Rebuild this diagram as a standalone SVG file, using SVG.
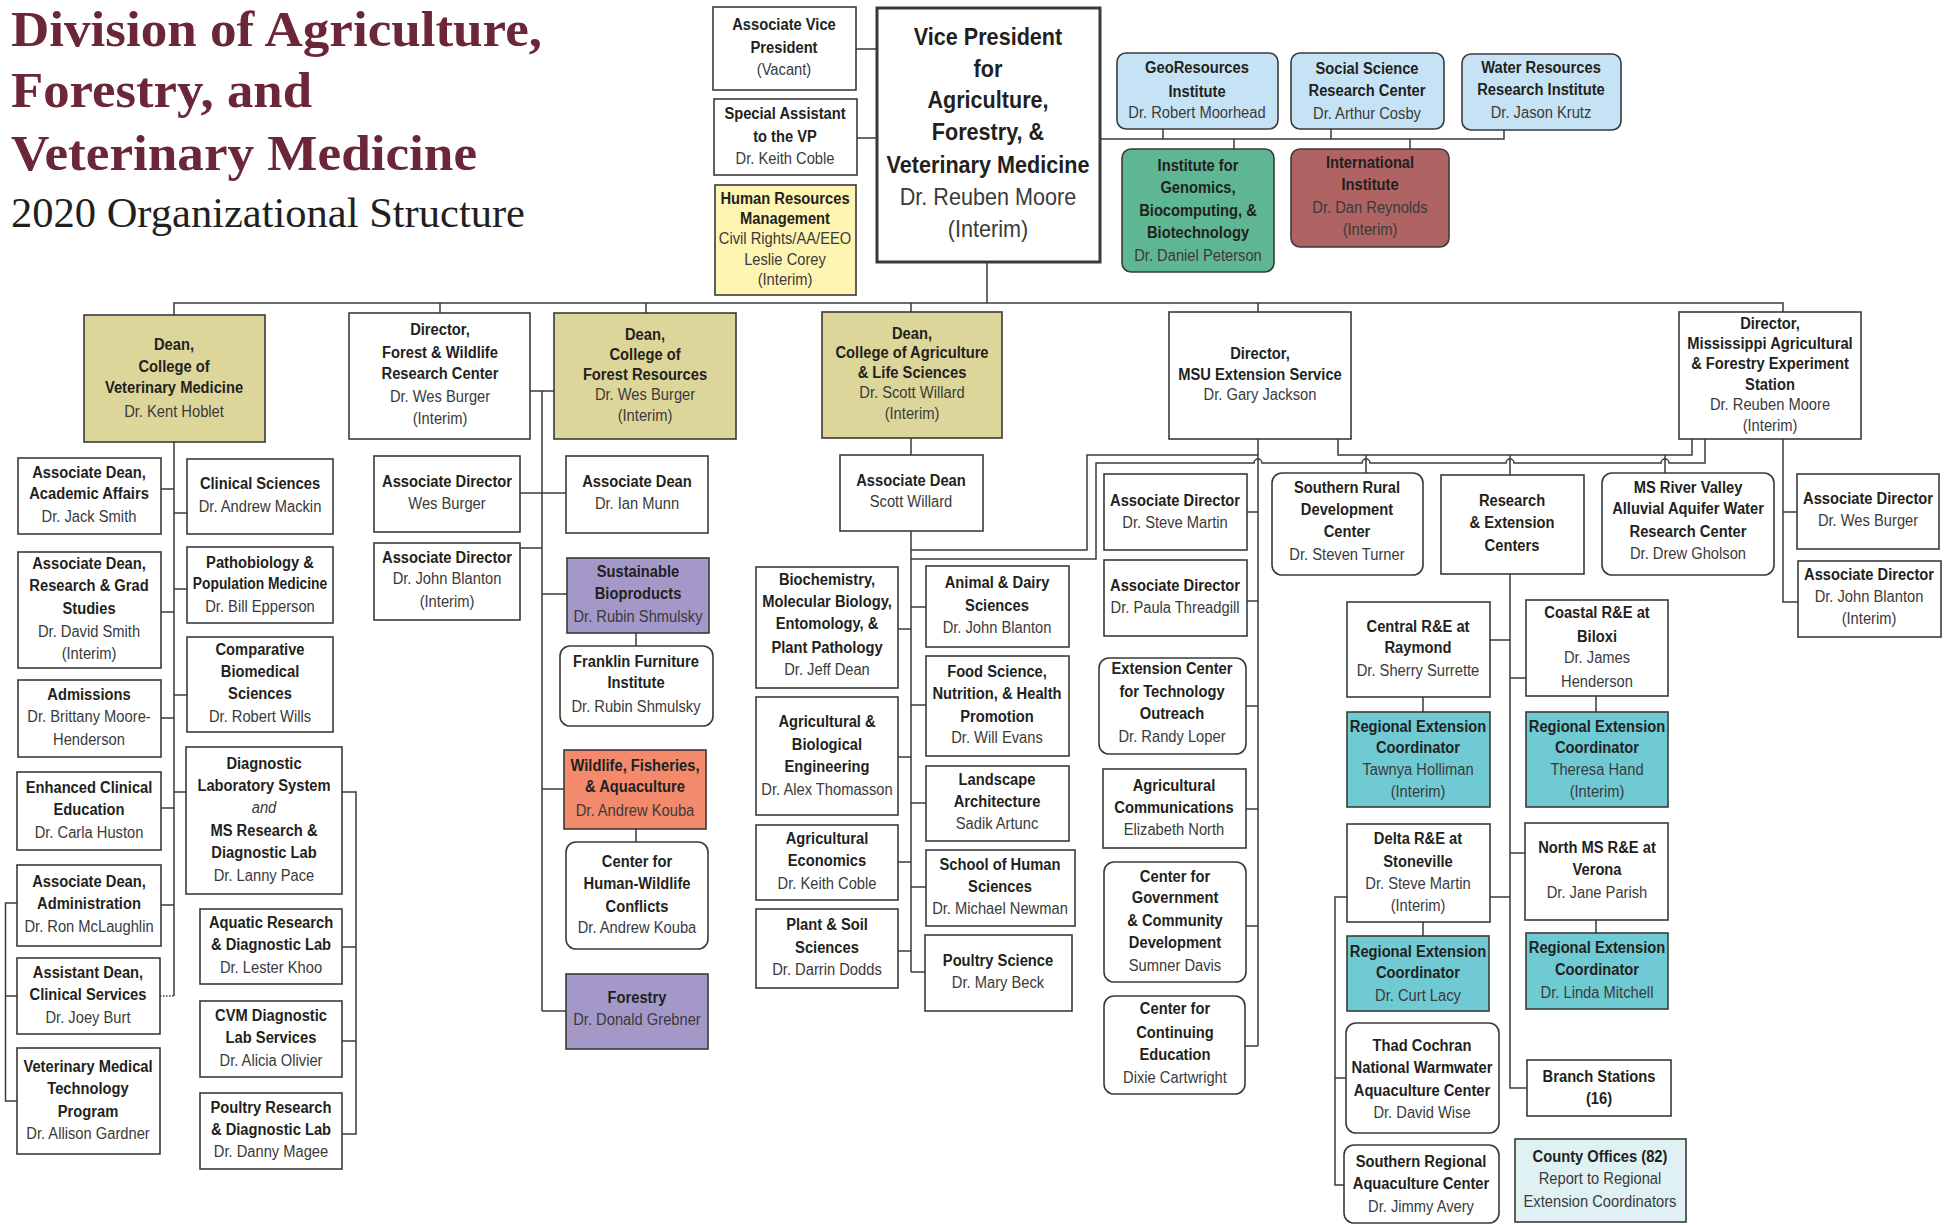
<svg xmlns="http://www.w3.org/2000/svg" width="1956" height="1225" viewBox="0 0 1956 1225">
<style>
.bx{fill:#fff;stroke:#3a3a3a;stroke-width:1.6}
.thick{stroke-width:3}
.kh{fill:#ddd69a}
.lb{fill:#c5e3f5}
.gr{fill:#5fb693}
.rd{fill:#b06363}
.pu{fill:#a498c9}
.sa{fill:#f38a6b}
.te{fill:#70cad4}
.co{fill:#e0f1f4}
.ye{fill:#fff5b2}
.t{font-family:'Liberation Sans',Arial,sans-serif;font-size:16px;text-anchor:middle;fill:#3a3a3a}
.vp{font-size:23.5px}
.b{font-weight:bold;fill:#231f20}
.i{font-style:italic}
.cn{fill:none;stroke:#3a3a3a;stroke-width:1.5}
.dot{stroke-dasharray:1.5 1.5}
.ttl{font-family:'Liberation Serif','Times New Roman',serif;font-weight:bold;font-size:51.5px;fill:#6b2737}
.sub{font-family:'Liberation Serif','Times New Roman',serif;font-size:42px;fill:#231f20}
</style>

<g id="title">
<text class="ttl" x="11" y="46" textLength="531" lengthAdjust="spacingAndGlyphs">Division of Agriculture,</text>
<text class="ttl" x="11" y="107" textLength="301" lengthAdjust="spacingAndGlyphs">Forestry, and</text>
<text class="ttl" x="11" y="170" textLength="466" lengthAdjust="spacingAndGlyphs">Veterinary Medicine</text>
<text class="sub" x="11" y="227" textLength="514" lengthAdjust="spacingAndGlyphs">2020 Organizational Structure</text>
</g>

<g id="connectors">
<path class="cn" d="M856,49 H877 M857,138 H877"/>
<path class="cn" d="M1100,139 H1504 V130 M1163,129 V139 M1331,129 V139 M1234,139 V149 M1410,139 V149"/>
<path class="cn" d="M987,262 V303 M174,315 V303 H1783 V312 M440,303 V313 M646,303 V313 M911,303 V312 M1258,303 V312"/>
<path class="cn" d="M174,442 V996 M161,489 H174 M174,513 H187 M174,589 H187 M161,612 H174 M174,695 H187 M161,718 H174 M174,792 H186 M161,808 H174 M161,905 H174"/>
<path class="cn dot" d="M160,996 H174"/>
<path class="cn" d="M17,903 H5.5 V1101 H17 M5.5,996 H17"/>
<path class="cn" d="M342,792 H356 V1134 H342 M342,947 H356 M342,1041 H356"/>
<path class="cn" d="M530,391 H554 M542,391 V1011 M520,493 H566 M520,548 H542 M542,594 H567 M636,633 V646 M542,789 H564 M636,829 V842 M542,1011 H566"/>
<path class="cn" d="M911,438 V455 M911,531 V972 M898,629 H911 M898,757 H911 M898,862 H911 M898,951 H911 M911,607 H926 M911,705 H926 M911,803 H926 M911,887 H926 M911,972 H925"/>
<path class="cn" d="M911,550 H1087 V455 H1258"/>
<path class="cn" d="M911,559 H1096 V463 H1254 a4,4 0 0 1 8,0 H1362 a4,4 0 0 1 8,0 H1506 a4,4 0 0 1 8,0 H1661 a4,4 0 0 1 8,0 H1705 V439"/>
<path class="cn" d="M1338,439 V455 H1692 V439 M1366,455 V473 M1510,455 V475 M1665,455 V473"/>
<path class="cn" d="M1258,439 V1046 M1247,512 H1258 M1247,601 H1258 M1246,706 H1258 M1246,809 H1258 M1246,926 H1258 M1245,1046 H1258"/>
<path class="cn" d="M1783,439 V602 H1798 M1783,512 H1797"/>
<path class="cn" d="M1510,574 V1088 H1527 M1490,640 H1510 M1510,678 H1526 M1423,697 V712 M1596,696 V712 M1490,897 H1510 M1510,853 H1525 M1423,922 V936 M1596,920 V933"/>
<path class="cn" d="M1347,897 H1335 V1185 H1344 M1335,1078 H1346"/>
</g>

<g id="n-avp"><rect class="bx" x="713" y="7" width="143" height="83"/>
<text class="t" transform="matrix(.92 0 0 1 784 0)"><tspan class="b" x="0" y="30">Associate Vice</tspan><tspan class="b" x="0" y="53">President</tspan><tspan x="0" y="75">(Vacant)</tspan></text></g>

<g id="n-special"><rect class="bx" x="714" y="99" width="143" height="76"/>
<text class="t" transform="matrix(.92 0 0 1 785 0)"><tspan class="b" x="0" y="119">Special Assistant</tspan><tspan class="b" x="0" y="142">to the VP</tspan><tspan x="0" y="164">Dr. Keith Coble</tspan></text></g>

<g id="n-hr"><rect class="bx ye" x="715" y="185" width="141" height="110"/>
<text class="t" transform="matrix(.92 0 0 1 785 0)"><tspan class="b" x="0" y="204">Human Resources</tspan><tspan class="b" x="0" y="224">Management</tspan><tspan x="0" y="244">Civil Rights/AA/EEO</tspan><tspan x="0" y="265">Leslie Corey</tspan><tspan x="0" y="285">(Interim)</tspan></text></g>

<g id="n-vp"><rect class="bx thick" x="877" y="8" width="223" height="254"/>
<text class="t vp" transform="matrix(.92 0 0 1 988 0)"><tspan class="b" x="0" y="45">Vice President</tspan><tspan class="b" x="0" y="77">for</tspan><tspan class="b" x="0" y="108">Agriculture,</tspan><tspan class="b" x="0" y="140">Forestry, &amp;</tspan><tspan class="b" x="0" y="173">Veterinary Medicine</tspan><tspan x="0" y="205">Dr. Reuben Moore</tspan><tspan x="0" y="237">(Interim)</tspan></text></g>

<g id="n-geo"><rect class="bx lb" x="1117" y="53" width="161" height="76" rx="9"/>
<text class="t" transform="matrix(.92 0 0 1 1197 0)"><tspan class="b" x="0" y="73">GeoResources</tspan><tspan class="b" x="0" y="97">Institute</tspan><tspan x="0" y="118">Dr. Robert Moorhead</tspan></text></g>

<g id="n-social"><rect class="bx lb" x="1291" y="53" width="153" height="76" rx="9"/>
<text class="t" transform="matrix(.92 0 0 1 1367 0)"><tspan class="b" x="0" y="74">Social Science</tspan><tspan class="b" x="0" y="96">Research Center</tspan><tspan x="0" y="119">Dr. Arthur Cosby</tspan></text></g>

<g id="n-water"><rect class="bx lb" x="1462" y="54" width="159" height="76" rx="9"/>
<text class="t" transform="matrix(.92 0 0 1 1541 0)"><tspan class="b" x="0" y="73">Water Resources</tspan><tspan class="b" x="0" y="95">Research Institute</tspan><tspan x="0" y="118">Dr. Jason Krutz</tspan></text></g>

<g id="n-genomics"><rect class="bx gr" x="1122" y="149" width="152" height="123" rx="9"/>
<text class="t" transform="matrix(.92 0 0 1 1198 0)"><tspan class="b" x="0" y="171">Institute for</tspan><tspan class="b" x="0" y="193">Genomics,</tspan><tspan class="b" x="0" y="216">Biocomputing, &amp;</tspan><tspan class="b" x="0" y="238">Biotechnology</tspan><tspan x="0" y="261">Dr. Daniel Peterson</tspan></text></g>

<g id="n-intl"><rect class="bx rd" x="1291" y="149" width="158" height="98" rx="9"/>
<text class="t" transform="matrix(.92 0 0 1 1370 0)"><tspan class="b" x="0" y="168">International</tspan><tspan class="b" x="0" y="190">Institute</tspan><tspan x="0" y="213">Dr. Dan Reynolds</tspan><tspan x="0" y="235">(Interim)</tspan></text></g>

<g id="n-deanvet"><rect class="bx kh" x="84" y="315" width="181" height="127"/>
<text class="t" transform="matrix(.92 0 0 1 174 0)"><tspan class="b" x="0" y="350">Dean,</tspan><tspan class="b" x="0" y="372">College of</tspan><tspan class="b" x="0" y="393">Veterinary Medicine</tspan><tspan x="0" y="417">Dr. Kent Hoblet</tspan></text></g>

<g id="n-fwrc"><rect class="bx" x="349" y="313" width="181" height="126"/>
<text class="t" transform="matrix(.92 0 0 1 440 0)"><tspan class="b" x="0" y="335">Director,</tspan><tspan class="b" x="0" y="358">Forest &amp; Wildlife</tspan><tspan class="b" x="0" y="379">Research Center</tspan><tspan x="0" y="402">Dr. Wes Burger</tspan><tspan x="0" y="424">(Interim)</tspan></text></g>

<g id="n-deancfr"><rect class="bx kh" x="554" y="313" width="182" height="126"/>
<text class="t" transform="matrix(.92 0 0 1 645 0)"><tspan class="b" x="0" y="340">Dean,</tspan><tspan class="b" x="0" y="360">College of</tspan><tspan class="b" x="0" y="380">Forest Resources</tspan><tspan x="0" y="400">Dr. Wes Burger</tspan><tspan x="0" y="421">(Interim)</tspan></text></g>

<g id="n-deancals"><rect class="bx kh" x="822" y="312" width="180" height="126"/>
<text class="t" transform="matrix(.92 0 0 1 912 0)"><tspan class="b" x="0" y="339">Dean,</tspan><tspan class="b" x="0" y="358">College of Agriculture</tspan><tspan class="b" x="0" y="378">&amp; Life Sciences</tspan><tspan x="0" y="398">Dr. Scott Willard</tspan><tspan x="0" y="419">(Interim)</tspan></text></g>

<g id="n-msuext"><rect class="bx" x="1169" y="312" width="182" height="127"/>
<text class="t" transform="matrix(.92 0 0 1 1260 0)"><tspan class="b" x="0" y="359">Director,</tspan><tspan class="b" x="0" y="380">MSU Extension Service</tspan><tspan x="0" y="400">Dr. Gary Jackson</tspan></text></g>

<g id="n-mafes"><rect class="bx" x="1679" y="312" width="182" height="127"/>
<text class="t" transform="matrix(.92 0 0 1 1770 0)"><tspan class="b" x="0" y="329">Director,</tspan><tspan class="b" x="0" y="349">Mississippi Agricultural</tspan><tspan class="b" x="0" y="369">&amp; Forestry Experiment</tspan><tspan class="b" x="0" y="390">Station</tspan><tspan x="0" y="410">Dr. Reuben Moore</tspan><tspan x="0" y="431">(Interim)</tspan></text></g>

<g id="n-adacad"><rect class="bx" x="18" y="458" width="143" height="76"/>
<text class="t" transform="matrix(.92 0 0 1 89 0)"><tspan class="b" x="0" y="478">Associate Dean,</tspan><tspan class="b" x="0" y="499">Academic Affairs</tspan><tspan x="0" y="522">Dr. Jack Smith</tspan></text></g>

<g id="n-adresearch"><rect class="bx" x="18" y="552" width="143" height="116"/>
<text class="t" transform="matrix(.92 0 0 1 89 0)"><tspan class="b" x="0" y="569">Associate Dean,</tspan><tspan class="b" x="0" y="591">Research &amp; Grad</tspan><tspan class="b" x="0" y="614">Studies</tspan><tspan x="0" y="637">Dr. David Smith</tspan><tspan x="0" y="659">(Interim)</tspan></text></g>

<g id="n-admissions"><rect class="bx" x="18" y="680" width="143" height="77"/>
<text class="t" transform="matrix(.92 0 0 1 89 0)"><tspan class="b" x="0" y="700">Admissions</tspan><tspan x="0" y="722">Dr. Brittany Moore-</tspan><tspan x="0" y="745">Henderson</tspan></text></g>

<g id="n-enhanced"><rect class="bx" x="17" y="772" width="144" height="78"/>
<text class="t" transform="matrix(.92 0 0 1 89 0)"><tspan class="b" x="0" y="793">Enhanced Clinical</tspan><tspan class="b" x="0" y="815">Education</tspan><tspan x="0" y="838">Dr. Carla Huston</tspan></text></g>

<g id="n-adadmin"><rect class="bx" x="17" y="865" width="144" height="81"/>
<text class="t" transform="matrix(.92 0 0 1 89 0)"><tspan class="b" x="0" y="887">Associate Dean,</tspan><tspan class="b" x="0" y="909">Administration</tspan><tspan x="0" y="932">Dr. Ron McLaughlin</tspan></text></g>

<g id="n-asstclinical"><rect class="bx" x="17" y="958" width="143" height="76"/>
<text class="t" transform="matrix(.92 0 0 1 88 0)"><tspan class="b" x="0" y="978">Assistant Dean,</tspan><tspan class="b" x="0" y="1000">Clinical Services</tspan><tspan x="0" y="1023">Dr. Joey Burt</tspan></text></g>

<g id="n-vmt"><rect class="bx" x="17" y="1048" width="143" height="106"/>
<text class="t" transform="matrix(.92 0 0 1 88 0)"><tspan class="b" x="0" y="1072">Veterinary Medical</tspan><tspan class="b" x="0" y="1094">Technology</tspan><tspan class="b" x="0" y="1117">Program</tspan><tspan x="0" y="1139">Dr. Allison Gardner</tspan></text></g>

<g id="n-clinical"><rect class="bx" x="187" y="459" width="146" height="75"/>
<text class="t" transform="matrix(.92 0 0 1 260 0)"><tspan class="b" x="0" y="489">Clinical Sciences</tspan><tspan x="0" y="512">Dr. Andrew Mackin</tspan></text></g>

<g id="n-patho"><rect class="bx" x="187" y="547" width="146" height="76"/>
<text class="t" transform="matrix(.92 0 0 1 260 0)"><tspan class="b" x="0" y="568">Pathobiology &amp;</tspan><tspan class="b" x="0" y="589" textLength="146" lengthAdjust="spacingAndGlyphs">Population Medicine</tspan><tspan x="0" y="612">Dr. Bill Epperson</tspan></text></g>

<g id="n-comparative"><rect class="bx" x="187" y="637" width="146" height="95"/>
<text class="t" transform="matrix(.92 0 0 1 260 0)"><tspan class="b" x="0" y="655">Comparative</tspan><tspan class="b" x="0" y="677">Biomedical</tspan><tspan class="b" x="0" y="699">Sciences</tspan><tspan x="0" y="722">Dr. Robert Wills</tspan></text></g>

<g id="n-diaglab"><rect class="bx" x="186" y="747" width="156" height="147"/>
<text class="t" transform="matrix(.92 0 0 1 264 0)"><tspan class="b" x="0" y="769">Diagnostic</tspan><tspan class="b" x="0" y="791">Laboratory System</tspan><tspan class="i" x="0" y="813">and</tspan><tspan class="b" x="0" y="836">MS Research &amp;</tspan><tspan class="b" x="0" y="858">Diagnostic Lab</tspan><tspan x="0" y="881">Dr. Lanny Pace</tspan></text></g>

<g id="n-aquatic"><rect class="bx" x="200" y="909" width="142" height="75"/>
<text class="t" transform="matrix(.92 0 0 1 271 0)"><tspan class="b" x="0" y="928">Aquatic Research</tspan><tspan class="b" x="0" y="950">&amp; Diagnostic Lab</tspan><tspan x="0" y="973">Dr. Lester Khoo</tspan></text></g>

<g id="n-cvmdiag"><rect class="bx" x="200" y="1001" width="142" height="76"/>
<text class="t" transform="matrix(.92 0 0 1 271 0)"><tspan class="b" x="0" y="1021">CVM Diagnostic</tspan><tspan class="b" x="0" y="1043">Lab Services</tspan><tspan x="0" y="1066">Dr. Alicia Olivier</tspan></text></g>

<g id="n-poultryres"><rect class="bx" x="200" y="1093" width="142" height="76"/>
<text class="t" transform="matrix(.92 0 0 1 271 0)"><tspan class="b" x="0" y="1113">Poultry Research</tspan><tspan class="b" x="0" y="1135">&amp; Diagnostic Lab</tspan><tspan x="0" y="1157">Dr. Danny Magee</tspan></text></g>

<g id="n-adwes"><rect class="bx" x="374" y="456" width="146" height="76"/>
<text class="t" transform="matrix(.92 0 0 1 447 0)"><tspan class="b" x="0" y="487">Associate Director</tspan><tspan x="0" y="509">Wes Burger</tspan></text></g>

<g id="n-adblanton1"><rect class="bx" x="374" y="543" width="146" height="77"/>
<text class="t" transform="matrix(.92 0 0 1 447 0)"><tspan class="b" x="0" y="563">Associate Director</tspan><tspan x="0" y="584">Dr. John Blanton</tspan><tspan x="0" y="607">(Interim)</tspan></text></g>

<g id="n-munn"><rect class="bx" x="566" y="456" width="142" height="77"/>
<text class="t" transform="matrix(.92 0 0 1 637 0)"><tspan class="b" x="0" y="487">Associate Dean</tspan><tspan x="0" y="509">Dr. Ian Munn</tspan></text></g>

<g id="n-sustain"><rect class="bx pu" x="567" y="558" width="142" height="75"/>
<text class="t" transform="matrix(.92 0 0 1 638 0)"><tspan class="b" x="0" y="577">Sustainable</tspan><tspan class="b" x="0" y="599">Bioproducts</tspan><tspan x="0" y="622">Dr. Rubin Shmulsky</tspan></text></g>

<g id="n-franklin"><rect class="bx" x="560" y="646" width="153" height="80" rx="10"/>
<text class="t" transform="matrix(.92 0 0 1 636 0)"><tspan class="b" x="0" y="667">Franklin Furniture</tspan><tspan class="b" x="0" y="688">Institute</tspan><tspan x="0" y="712">Dr. Rubin Shmulsky</tspan></text></g>

<g id="n-wildlife"><rect class="bx sa" x="564" y="750" width="142" height="79"/>
<text class="t" transform="matrix(.92 0 0 1 635 0)"><tspan class="b" x="0" y="771">Wildlife, Fisheries,</tspan><tspan class="b" x="0" y="792">&amp; Aquaculture</tspan><tspan x="0" y="816">Dr. Andrew Kouba</tspan></text></g>

<g id="n-humanwild"><rect class="bx" x="566" y="842" width="142" height="107" rx="10"/>
<text class="t" transform="matrix(.92 0 0 1 637 0)"><tspan class="b" x="0" y="867">Center for</tspan><tspan class="b" x="0" y="889">Human-Wildlife</tspan><tspan class="b" x="0" y="912">Conflicts</tspan><tspan x="0" y="933">Dr. Andrew Kouba</tspan></text></g>

<g id="n-forestry"><rect class="bx pu" x="566" y="974" width="142" height="75"/>
<text class="t" transform="matrix(.92 0 0 1 637 0)"><tspan class="b" x="0" y="1003">Forestry</tspan><tspan x="0" y="1025">Dr. Donald Grebner</tspan></text></g>

<g id="n-adwillard"><rect class="bx" x="840" y="455" width="143" height="76"/>
<text class="t" transform="matrix(.92 0 0 1 911 0)"><tspan class="b" x="0" y="486">Associate Dean</tspan><tspan x="0" y="507">Scott Willard</tspan></text></g>

<g id="n-biochem"><rect class="bx" x="756" y="567" width="142" height="121"/>
<text class="t" transform="matrix(.92 0 0 1 827 0)"><tspan class="b" x="0" y="585">Biochemistry,</tspan><tspan class="b" x="0" y="607">Molecular Biology,</tspan><tspan class="b" x="0" y="629">Entomology, &amp;</tspan><tspan class="b" x="0" y="653">Plant Pathology</tspan><tspan x="0" y="675">Dr. Jeff Dean</tspan></text></g>

<g id="n-abe"><rect class="bx" x="756" y="697" width="142" height="118"/>
<text class="t" transform="matrix(.92 0 0 1 827 0)"><tspan class="b" x="0" y="727">Agricultural &amp;</tspan><tspan class="b" x="0" y="750">Biological</tspan><tspan class="b" x="0" y="772">Engineering</tspan><tspan x="0" y="795">Dr. Alex Thomasson</tspan></text></g>

<g id="n-agecon"><rect class="bx" x="756" y="825" width="142" height="75"/>
<text class="t" transform="matrix(.92 0 0 1 827 0)"><tspan class="b" x="0" y="844">Agricultural</tspan><tspan class="b" x="0" y="866">Economics</tspan><tspan x="0" y="889">Dr. Keith Coble</tspan></text></g>

<g id="n-plantsoil"><rect class="bx" x="756" y="909" width="142" height="79"/>
<text class="t" transform="matrix(.92 0 0 1 827 0)"><tspan class="b" x="0" y="930">Plant &amp; Soil</tspan><tspan class="b" x="0" y="953">Sciences</tspan><tspan x="0" y="975">Dr. Darrin Dodds</tspan></text></g>

<g id="n-animal"><rect class="bx" x="926" y="566" width="143" height="81"/>
<text class="t" transform="matrix(.92 0 0 1 997 0)"><tspan class="b" x="0" y="588">Animal &amp; Dairy</tspan><tspan class="b" x="0" y="611">Sciences</tspan><tspan x="0" y="633">Dr. John Blanton</tspan></text></g>

<g id="n-food"><rect class="bx" x="926" y="656" width="143" height="100"/>
<text class="t" transform="matrix(.92 0 0 1 997 0)"><tspan class="b" x="0" y="677">Food Science,</tspan><tspan class="b" x="0" y="699">Nutrition, &amp; Health</tspan><tspan class="b" x="0" y="722">Promotion</tspan><tspan x="0" y="743">Dr. Will Evans</tspan></text></g>

<g id="n-landscape"><rect class="bx" x="926" y="766" width="143" height="75"/>
<text class="t" transform="matrix(.92 0 0 1 997 0)"><tspan class="b" x="0" y="785">Landscape</tspan><tspan class="b" x="0" y="807">Architecture</tspan><tspan x="0" y="829">Sadik Artunc</tspan></text></g>

<g id="n-humansci"><rect class="bx" x="926" y="850" width="149" height="76"/>
<text class="t" transform="matrix(.92 0 0 1 1000 0)"><tspan class="b" x="0" y="870">School of Human</tspan><tspan class="b" x="0" y="892">Sciences</tspan><tspan x="0" y="914">Dr. Michael Newman</tspan></text></g>

<g id="n-poultrysci"><rect class="bx" x="925" y="935" width="147" height="76"/>
<text class="t" transform="matrix(.92 0 0 1 998 0)"><tspan class="b" x="0" y="966">Poultry Science</tspan><tspan x="0" y="988">Dr. Mary Beck</tspan></text></g>

<g id="n-admartin"><rect class="bx" x="1104" y="474" width="143" height="76"/>
<text class="t" transform="matrix(.92 0 0 1 1175 0)"><tspan class="b" x="0" y="506">Associate Director</tspan><tspan x="0" y="528">Dr. Steve Martin</tspan></text></g>

<g id="n-adpaula"><rect class="bx" x="1104" y="560" width="143" height="76"/>
<text class="t" transform="matrix(.92 0 0 1 1175 0)"><tspan class="b" x="0" y="591">Associate Director</tspan><tspan x="0" y="613">Dr. Paula Threadgill</tspan></text></g>

<g id="n-ecto"><rect class="bx" x="1099" y="658" width="147" height="96" rx="10"/>
<text class="t" transform="matrix(.92 0 0 1 1172 0)"><tspan class="b" x="0" y="674">Extension Center</tspan><tspan class="b" x="0" y="697">for Technology</tspan><tspan class="b" x="0" y="719">Outreach</tspan><tspan x="0" y="742">Dr. Randy Loper</tspan></text></g>

<g id="n-agcomm"><rect class="bx" x="1103" y="769" width="143" height="79"/>
<text class="t" transform="matrix(.92 0 0 1 1174 0)"><tspan class="b" x="0" y="791">Agricultural</tspan><tspan class="b" x="0" y="813">Communications</tspan><tspan x="0" y="835">Elizabeth North</tspan></text></g>

<g id="n-cgcd"><rect class="bx" x="1104" y="862" width="142" height="120" rx="10"/>
<text class="t" transform="matrix(.92 0 0 1 1175 0)"><tspan class="b" x="0" y="882">Center for</tspan><tspan class="b" x="0" y="903">Government</tspan><tspan class="b" x="0" y="926">&amp; Community</tspan><tspan class="b" x="0" y="948">Development</tspan><tspan x="0" y="971">Sumner Davis</tspan></text></g>

<g id="n-conted"><rect class="bx" x="1104" y="996" width="141" height="98" rx="10"/>
<text class="t" transform="matrix(.92 0 0 1 1175 0)"><tspan class="b" x="0" y="1014">Center for</tspan><tspan class="b" x="0" y="1038">Continuing</tspan><tspan class="b" x="0" y="1060">Education</tspan><tspan x="0" y="1083">Dixie Cartwright</tspan></text></g>

<g id="n-srdc"><rect class="bx" x="1272" y="473" width="151" height="102" rx="10"/>
<text class="t" transform="matrix(.92 0 0 1 1347 0)"><tspan class="b" x="0" y="493">Southern Rural</tspan><tspan class="b" x="0" y="515">Development</tspan><tspan class="b" x="0" y="537">Center</tspan><tspan x="0" y="560">Dr. Steven Turner</tspan></text></g>

<g id="n-recenters"><rect class="bx" x="1441" y="475" width="143" height="99"/>
<text class="t" transform="matrix(.92 0 0 1 1512 0)"><tspan class="b" x="0" y="506">Research</tspan><tspan class="b" x="0" y="528">&amp; Extension</tspan><tspan class="b" x="0" y="551">Centers</tspan></text></g>

<g id="n-msriver"><rect class="bx" x="1602" y="473" width="172" height="102" rx="10"/>
<text class="t" transform="matrix(.92 0 0 1 1688 0)"><tspan class="b" x="0" y="493">MS River Valley</tspan><tspan class="b" x="0" y="514">Alluvial Aquifer Water</tspan><tspan class="b" x="0" y="537">Research Center</tspan><tspan x="0" y="559">Dr. Drew Gholson</tspan></text></g>

<g id="n-adwes2"><rect class="bx" x="1797" y="474" width="142" height="75"/>
<text class="t" transform="matrix(.92 0 0 1 1868 0)"><tspan class="b" x="0" y="504">Associate Director</tspan><tspan x="0" y="526">Dr. Wes Burger</tspan></text></g>

<g id="n-adblanton2"><rect class="bx" x="1798" y="561" width="143" height="76"/>
<text class="t" transform="matrix(.92 0 0 1 1869 0)"><tspan class="b" x="0" y="580">Associate Director</tspan><tspan x="0" y="602">Dr. John Blanton</tspan><tspan x="0" y="624">(Interim)</tspan></text></g>

<g id="n-central"><rect class="bx" x="1347" y="602" width="143" height="95"/>
<text class="t" transform="matrix(.92 0 0 1 1418 0)"><tspan class="b" x="0" y="632">Central R&amp;E at</tspan><tspan class="b" x="0" y="653">Raymond</tspan><tspan x="0" y="676">Dr. Sherry Surrette</tspan></text></g>

<g id="n-rec-tawnya"><rect class="bx te" x="1347" y="712" width="143" height="95"/>
<text class="t" transform="matrix(.92 0 0 1 1418 0)"><tspan class="b" x="0" y="732">Regional Extension</tspan><tspan class="b" x="0" y="753">Coordinator</tspan><tspan x="0" y="775">Tawnya Holliman</tspan><tspan x="0" y="797">(Interim)</tspan></text></g>

<g id="n-coastal"><rect class="bx" x="1526" y="600" width="142" height="96"/>
<text class="t" transform="matrix(.92 0 0 1 1597 0)"><tspan class="b" x="0" y="618">Coastal R&amp;E at</tspan><tspan class="b" x="0" y="642">Biloxi</tspan><tspan x="0" y="663">Dr. James</tspan><tspan x="0" y="687">Henderson</tspan></text></g>

<g id="n-rec-theresa"><rect class="bx te" x="1526" y="712" width="142" height="95"/>
<text class="t" transform="matrix(.92 0 0 1 1597 0)"><tspan class="b" x="0" y="732">Regional Extension</tspan><tspan class="b" x="0" y="753">Coordinator</tspan><tspan x="0" y="775">Theresa Hand</tspan><tspan x="0" y="797">(Interim)</tspan></text></g>

<g id="n-delta"><rect class="bx" x="1347" y="824" width="143" height="98"/>
<text class="t" transform="matrix(.92 0 0 1 1418 0)"><tspan class="b" x="0" y="844">Delta R&amp;E at</tspan><tspan class="b" x="0" y="867">Stoneville</tspan><tspan x="0" y="889">Dr. Steve Martin</tspan><tspan x="0" y="911">(Interim)</tspan></text></g>

<g id="n-rec-lacy"><rect class="bx te" x="1347" y="936" width="142" height="75"/>
<text class="t" transform="matrix(.92 0 0 1 1418 0)"><tspan class="b" x="0" y="957">Regional Extension</tspan><tspan class="b" x="0" y="978">Coordinator</tspan><tspan x="0" y="1001">Dr. Curt Lacy</tspan></text></g>

<g id="n-thad"><rect class="bx" x="1346" y="1023" width="153" height="110" rx="10"/>
<text class="t" transform="matrix(.92 0 0 1 1422 0)"><tspan class="b" x="0" y="1051">Thad Cochran</tspan><tspan class="b" x="0" y="1073">National Warmwater</tspan><tspan class="b" x="0" y="1096">Aquaculture Center</tspan><tspan x="0" y="1118">Dr. David Wise</tspan></text></g>

<g id="n-srac"><rect class="bx" x="1344" y="1145" width="155" height="78" rx="10"/>
<text class="t" transform="matrix(.92 0 0 1 1421 0)"><tspan class="b" x="0" y="1167">Southern Regional</tspan><tspan class="b" x="0" y="1189">Aquaculture Center</tspan><tspan x="0" y="1212">Dr. Jimmy Avery</tspan></text></g>

<g id="n-northms"><rect class="bx" x="1525" y="823" width="143" height="97"/>
<text class="t" transform="matrix(.92 0 0 1 1597 0)"><tspan class="b" x="0" y="853">North MS R&amp;E at</tspan><tspan class="b" x="0" y="875">Verona</tspan><tspan x="0" y="898">Dr. Jane Parish</tspan></text></g>

<g id="n-rec-mitchell"><rect class="bx te" x="1526" y="933" width="142" height="76"/>
<text class="t" transform="matrix(.92 0 0 1 1597 0)"><tspan class="b" x="0" y="953">Regional Extension</tspan><tspan class="b" x="0" y="975">Coordinator</tspan><tspan x="0" y="998">Dr. Linda Mitchell</tspan></text></g>

<g id="n-branch"><rect class="bx" x="1527" y="1060" width="144" height="56"/>
<text class="t" transform="matrix(.92 0 0 1 1599 0)"><tspan class="b" x="0" y="1082">Branch Stations</tspan><tspan class="b" x="0" y="1104">(16)</tspan></text></g>

<g id="n-county"><rect class="bx co" x="1515" y="1139" width="171" height="83"/>
<text class="t" transform="matrix(.92 0 0 1 1600 0)"><tspan class="b" x="0" y="1162">County Offices (82)</tspan><tspan x="0" y="1184">Report to Regional</tspan><tspan x="0" y="1207">Extension Coordinators</tspan></text></g>
</svg>
